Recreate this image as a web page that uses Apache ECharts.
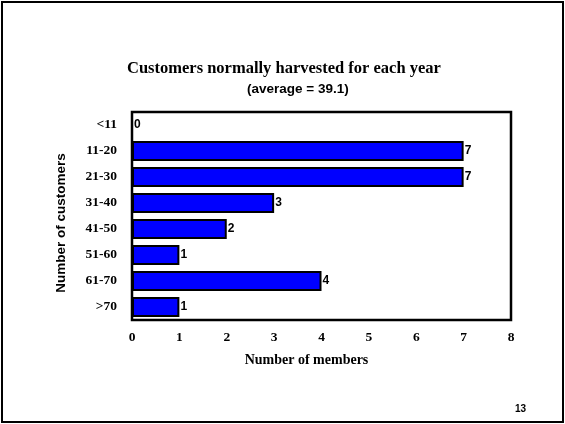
<!DOCTYPE html>
<html><head><meta charset="utf-8">
<script src="https://cdn.jsdelivr.net/npm/echarts@6/dist/echarts.min.js"></script>
<style>html,body{margin:0;padding:0;background:#fff}#c{width:565px;height:424px}</style>
</head><body><div id="c"></div>
<script>
var categories = ['<11','11-20','21-30','31-40','41-50','51-60','61-70','>70'];
var members = [0,7,7,3,2,1,4,1];
var xTicks = [0,1,2,3,4,5,6,7,8];
var chart = echarts.init(document.getElementById('c'), null, {renderer:'canvas'});
chart.setOption({
  animation:false,
  backgroundColor:'#fff',
  graphic:[
    {type:'rect', shape:{x:2,y:2,width:561,height:420}, style:{fill:'none',stroke:'#000',lineWidth:2}},
    {type:'text', left:127, top:60, style:{text:'Customers normally harvested for each year', font:'bold 16.5px "Liberation Serif", "Times New Roman", serif', fill:'#000'}},
    {type:'text', left:247, top:82, style:{text:'(average = 39.1)', font:'bold 13.5px "Liberation Sans", Arial, sans-serif', fill:'#000'}},
    {type:'text', left:515, top:404, style:{text:'13', font:'bold 10px "Liberation Sans", Arial, sans-serif', fill:'#000'}}
  ],
  grid:{left:132, right:54, top:112, bottom:104, show:true, borderColor:'#000', borderWidth:2.5, backgroundColor:'#fff'},
  xAxis:{type:'value', min:xTicks[0], max:xTicks[xTicks.length-1], interval:1,
    axisLine:{show:false}, axisTick:{show:false}, splitLine:{show:false},
    axisLabel:{margin:11, color:'#000', fontFamily:'"Liberation Serif", serif', fontWeight:'bold', fontSize:13.5},
    name:'Number of members', nameLocation:'middle', nameGap:33,
    nameTextStyle:{color:'#000', fontFamily:'"Liberation Serif", serif', fontWeight:'bold', fontSize:14, padding:[0,30,0,0]}},
  yAxis:{type:'category', data:categories, inverse:true,
    axisLine:{show:false}, axisTick:{show:false},
    axisLabel:{margin:15, color:'#000', fontFamily:'"Liberation Serif", serif', fontWeight:'bold', fontSize:13.5},
    name:'Number of customers', nameLocation:'middle', nameGap:64, nameRotate:90,
    nameTextStyle:{color:'#000', fontFamily:'"Liberation Sans", Arial, sans-serif', fontWeight:'bold', fontSize:13.5, padding:[0,14,0,0]}},
  series:[{type:'bar', data:members, barCategoryGap:'24%',
    itemStyle:{color:'#0000ff', borderColor:'#000', borderWidth:2},
    label:{show:true, position:'right', distance:1, color:'#000', fontFamily:'"Liberation Sans", Arial, sans-serif', fontWeight:'bold', fontSize:12}
  }]
});
</script></body></html>
